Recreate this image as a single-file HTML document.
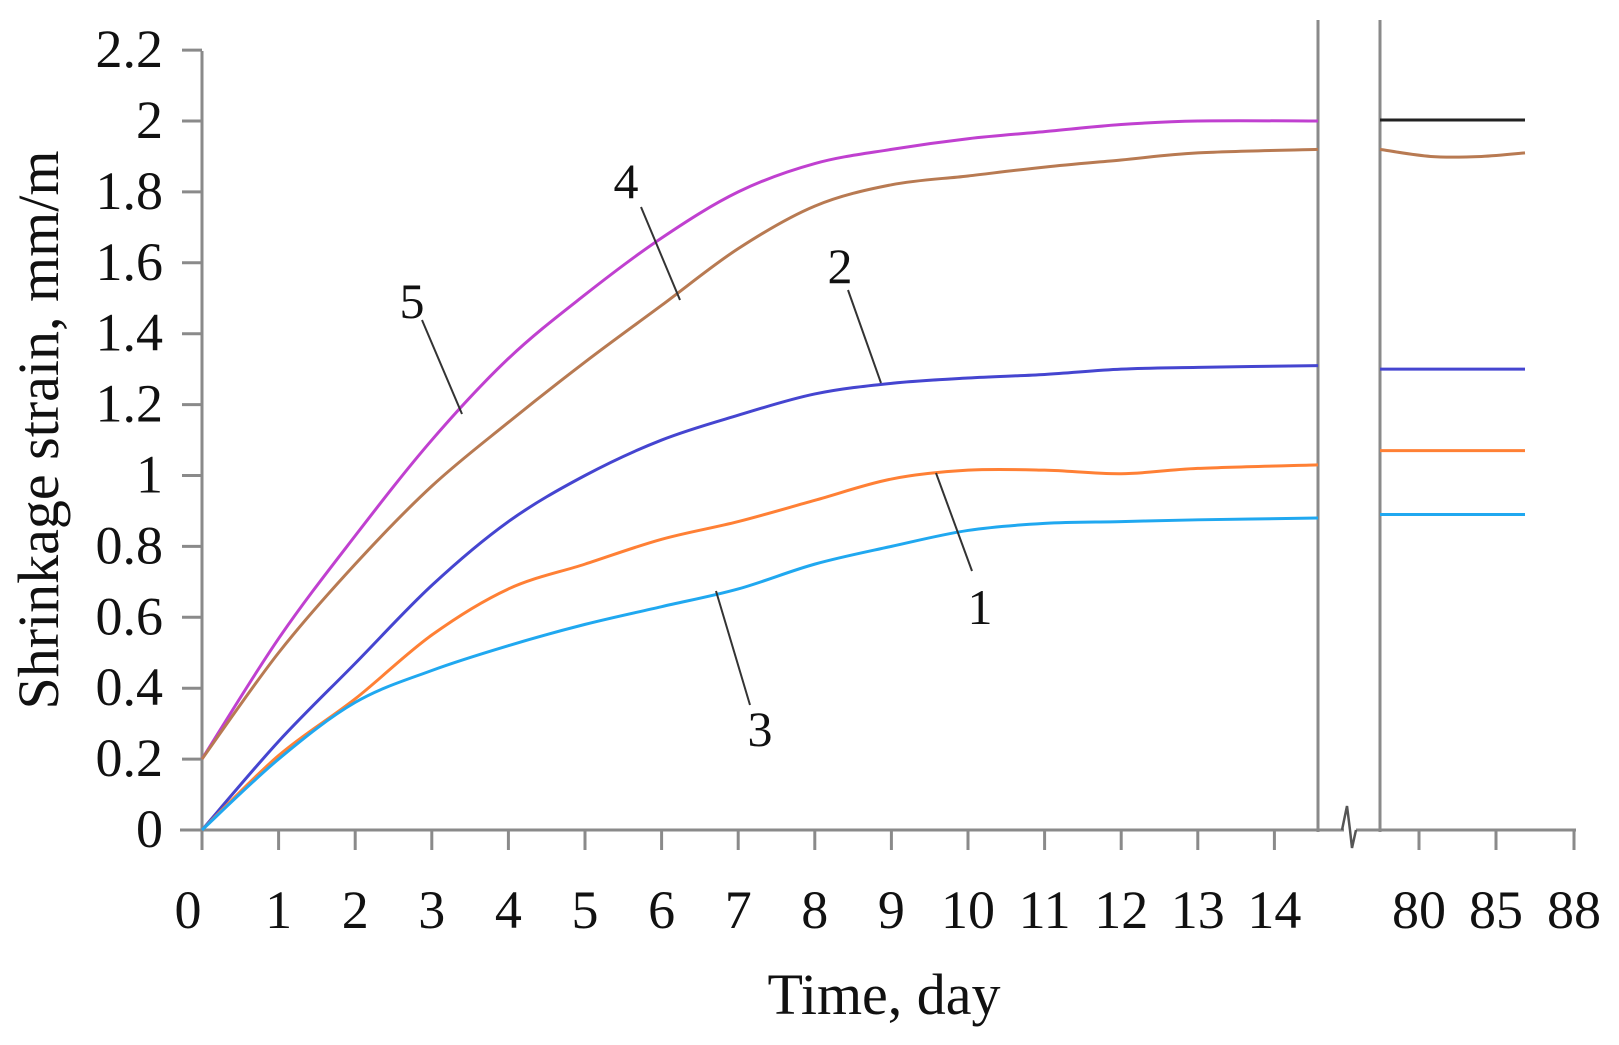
<!DOCTYPE html>
<html><head><meta charset="utf-8"><style>
html,body{margin:0;padding:0;background:#fff;}
svg{display:block;font-family:"Liberation Serif",serif;}
</style></head><body>
<svg id="s" width="1619" height="1045" viewBox="0 0 1619 1045">
<g stroke="#8a8a8a" stroke-width="3" fill="none">
<line x1="202" y1="51" x2="202" y2="832"/>
<line x1="180" y1="830" x2="1344" y2="830"/>
<line x1="1356" y1="830" x2="1576" y2="830"/>
<polyline points="1342,830 1347,806 1350,830 1352,848 1356,830" stroke="#555" stroke-width="2.5"/>
<line x1="1318" y1="20" x2="1318" y2="832"/>
<line x1="1380" y1="20" x2="1380" y2="832"/>
</g>
<g id="ticks" stroke="#8a8a8a" stroke-width="3"></g>
<g id="lbl" font-size="54" fill="#111"></g>
<text x="884" y="1014" font-size="58" text-anchor="middle" fill="#111">Time, day</text>
<text transform="translate(58,430) rotate(-90)" font-size="58" text-anchor="middle" fill="#111">Shrinkage strain, mm/m</text>
<g id="curves" fill="none" stroke-width="3"></g>
<g stroke="#333" stroke-width="2">
<line x1="422" y1="320" x2="462" y2="414"/>
<line x1="641" y1="207" x2="680" y2="300"/>
<line x1="848" y1="290" x2="881" y2="383"/>
<line x1="972" y1="571" x2="936" y2="473"/>
<line x1="750" y1="705" x2="716" y2="591"/>
</g>
<g font-size="50" fill="#111" text-anchor="middle">
<text x="412" y="318">5</text>
<text x="626" y="198">4</text>
<text x="840" y="283">2</text>
<text x="980" y="624">1</text>
<text x="760" y="746">3</text>
</g>
<line x1="1380" y1="120" x2="1525" y2="120" stroke="#222" stroke-width="3"/>
</svg>
<script>
const X=d=>202+d*76.6, Y=v=>830-v*354.5;
const NS="http://www.w3.org/2000/svg";
function el(p,t,a,txt){const e=document.createElementNS(NS,t);for(const k in a)e.setAttribute(k,a[k]);if(txt!==undefined)e.textContent=txt;document.getElementById(p).appendChild(e);}
for(let i=0;i<=11;i++){el("ticks","line",{x1:182,x2:202,y1:Y(i*0.2),y2:Y(i*0.2)});
 el("lbl","text",{x:163,y:Y(i*0.2)+17,"text-anchor":"end"},i==0?"0":i==5?"1":i==10?"2":(i*0.2).toFixed(1));}
for(let d=0;d<=14;d++){el("ticks","line",{x1:X(d),x2:X(d),y1:830,y2:850});
 el("lbl","text",{x:X(d)-(d==0?14:0),y:928,"text-anchor":"middle"},String(d));}
[[1419,"80"],[1496,"85"],[1574,"88"]].forEach(([x,t])=>{el("ticks","line",{x1:x,x2:x,y1:830,y2:850});el("lbl","text",{x:x,y:928,"text-anchor":"middle"},t);});
function path(pts){let d="M"+pts[0][0]+","+pts[0][1];
 for(let i=0;i<pts.length-1;i++){const p0=pts[i-1]||pts[i],p1=pts[i],p2=pts[i+1],p3=pts[i+2]||p2;
  d+=` C${p1[0]+(p2[0]-p0[0])/6},${p1[1]+(p2[1]-p0[1])/6} ${p2[0]-(p3[0]-p1[0])/6},${p2[1]-(p3[1]-p1[1])/6} ${p2[0]},${p2[1]}`;}
 return d;}
const days=[0,1,2,3,4,5,6,7,8,9,10,11,12,13,14.57];
const S=[
["#c040d0",[0.2,0.54,0.83,1.10,1.33,1.51,1.67,1.80,1.88,1.92,1.95,1.97,1.99,2.0,2.0],null],
["#b87a52",[0.2,0.50,0.75,0.97,1.15,1.32,1.48,1.64,1.76,1.82,1.845,1.87,1.89,1.91,1.92],[[0,1.92],[0.35,1.90],[0.7,1.90],[1,1.91]]],
["#4545d0",[0,0.25,0.47,0.69,0.87,1.0,1.10,1.17,1.23,1.26,1.275,1.285,1.30,1.305,1.31],[[0,1.30],[1,1.30]]],
["#ff8035",[0,0.21,0.37,0.55,0.68,0.75,0.82,0.87,0.93,0.99,1.015,1.015,1.005,1.02,1.03],[[0,1.07],[1,1.07]]],
["#20a8f0",[0,0.20,0.36,0.45,0.52,0.58,0.63,0.68,0.75,0.80,0.845,0.865,0.87,0.875,0.88],[[0,0.89],[1,0.89]]]];
S.forEach(([c,v,r])=>{el("curves","path",{d:path(days.map((d,i)=>[X(d),Y(v[i])])),stroke:c});
 if(r)el("curves","path",{d:path(r.map(([t,vv])=>[1380+t*145,Y(vv)])),stroke:c});});
</script>
</body></html>
